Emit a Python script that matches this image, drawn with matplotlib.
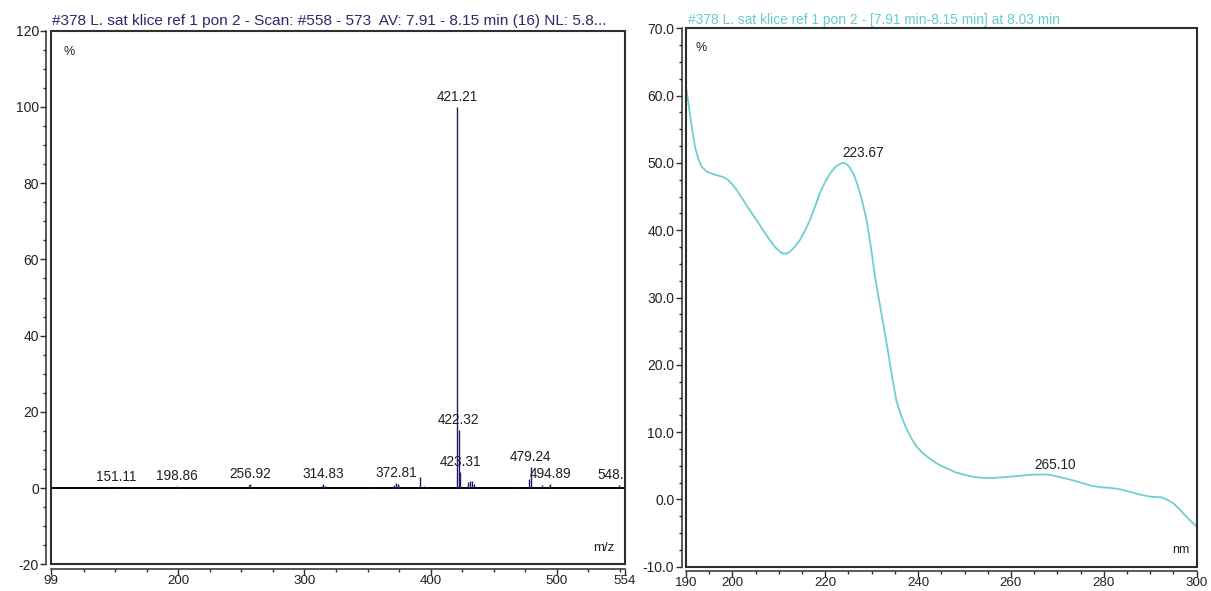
import matplotlib
matplotlib.use("Agg")
import matplotlib.pyplot as plt
from matplotlib.patches import Rectangle

plt.rcParams['font.family'] = ['Liberation Sans', 'DejaVu Sans']
plt.rcParams['axes.unicode_minus'] = False

# ---------------- data ----------------
ms_title = "#378 L. sat klice ref 1 pon 2 - Scan: #558 - 573  AV: 7.91 - 8.15 min (16) NL: 5.8..."
uv_title = "#378 L. sat klice ref 1 pon 2 - [7.91 min-8.15 min] at 8.03 min"

ms_mz = [151.11, 198.86, 255.9, 256.92, 313.8, 314.83, 316.0, 350.0,
         370.8, 372.81, 373.8, 374.8, 391.5, 394.5, 397.0,
         421.21, 422.32, 423.31, 429.5, 431.0, 432.5, 434.0,
         469.5, 478.2, 479.24, 488.0, 493.5, 494.89, 548.90, 550.5]
ms_int = [0.3, 0.5, 0.7, 1.0, 0.6, 1.0, 0.5, 0.4,
          0.8, 1.4, 1.0, 0.6, 3.0, 0.6, 0.4,
          100.0, 15.3, 4.3, 1.5, 1.8, 1.8, 1.0,
          0.4, 2.5, 5.6, 0.8, 0.6, 1.0, 0.8, 0.4]
ms_labels = ["151.11", "198.86", "256.92", "314.83", "372.81",
             "421.21", "422.32", "423.31", "479.24", "494.89", "548.90"]

ms_xlim = (99, 554)
ms_ylim = (-20, 120)
ms_xticks = [99, 200, 300, 400, 500, 554]
ms_yticks = [-20, 0, 20, 40, 60, 80, 100, 120]

uv_nm = [190, 190.5, 191, 191.5, 192, 192.7, 193.4, 194.5, 196, 198, 199, 200, 201,
         202.3, 203.7, 205.2, 206.6, 208.1, 209.3, 210.6, 211.5, 212.4, 213.4, 214.5,
         215.6, 216.7, 217.8, 218.8, 220, 221, 222.3, 223.67, 224.5, 225.2, 226.2,
         227.1, 228, 228.9, 229.8, 230.7, 231.4, 232, 233.5, 234.4, 235.3, 236.3,
         237.3, 238.5, 239.7, 241.3, 243, 244.6, 246.2, 248.2, 250.3, 252.3, 254.3,
         256.3, 258.4, 261, 263.3, 265.1, 268, 270.6, 273, 275.5, 277.5, 279.5,
         281.5, 283.6, 285.2, 286.8, 288.5, 290.1, 291.3, 292.5, 293.8, 295, 296.2,
         297.4, 298.7, 300]
uv_val = [61.2, 59.0, 56.5, 54.2, 52.2, 50.5, 49.4, 48.7, 48.3, 47.9, 47.5, 46.8, 45.9,
          44.5, 43.0, 41.5, 40.0, 38.5, 37.4, 36.6, 36.5, 36.8, 37.5, 38.5,
          39.9, 41.5, 43.5, 45.5, 47.2, 48.4, 49.5, 50.0, 49.9, 49.4, 48.2,
          46.4, 44.2, 41.5, 37.6, 33.1, 30.3, 28.0, 22.0, 18.2, 14.7, 12.5,
          10.8, 9.1, 7.8, 6.7, 5.8, 5.1, 4.6, 4.0, 3.6, 3.3, 3.2,
          3.2, 3.3, 3.45, 3.6, 3.7, 3.7, 3.3, 2.9, 2.4, 2.0, 1.8,
          1.7, 1.5, 1.2, 0.9, 0.6, 0.4, 0.35, 0.3, -0.1, -0.6, -1.4,
          -2.3, -3.2, -4.0]
uv_peaks = [223.67, 265.10]
uv_peak_labels = ["223.67", "265.10"]

uv_xlim = (190, 300)
uv_ylim = (-10, 70)
uv_xticks = [190, 200, 220, 240, 260, 280, 300]
uv_yticks = [-10, 0, 10, 20, 30, 40, 50, 60, 70]

# ---------------- styling ----------------
W, H = 1211, 591
fig = plt.figure(figsize=(W / 100, H / 100), dpi=100)
fig.patch.set_facecolor('white')


def rect(l, r, t, b):
    return [l / W, 1 - b / H, (r - l) / W, (b - t) / H]


ax1 = fig.add_axes(rect(50.7, 625, 30.7, 564.3))
ax2 = fig.add_axes(rect(686, 1196.7, 28.3, 566.7))

frame_col = '#2e2e2e'
tick_fs = 10
lab_fs = 9.8
navy = '#1c1c6a'
cyan = '#6fcfcf'


def style(ax):
    for s in ['top', 'right']:
        ax.spines[s].set_visible(False)
    for s in ['left', 'bottom']:
        ax.spines[s].set_position(('outward', 3.2))
        ax.spines[s].set_color(frame_col)
        ax.spines[s].set_linewidth(1.1)
    ax.add_patch(Rectangle((0, 0), 1, 1, transform=ax.transAxes, fill=False,
                           lw=1.5, ec=frame_col, clip_on=False, zorder=6))
    ax.tick_params(which='major', direction='out', length=4.0, width=1.0,
                   color=frame_col, labelsize=tick_fs, pad=1.2,
                   labelcolor='#222222')
    ax.tick_params(which='minor', direction='out', length=2.4, width=1.0,
                   color=frame_col)
    ax.tick_params(axis='x', which='major', pad=0.2, labelsize=9.6)


# ---- left: mass spectrum ----
style(ax1)
ax1.set_xlim(*ms_xlim)
ax1.set_ylim(*ms_ylim)
ax1.set_xticks(ms_xticks)
ax1.set_xticklabels([str(v) for v in ms_xticks])
ax1.set_xticks([v for v in range(125, 554, 25) if v % 100 != 0], minor=True)
ax1.set_yticks(ms_yticks)
ax1.set_yticks([v for v in range(-20, 121, 5) if v % 20 != 0], minor=True)

ax1.axhline(0, color='black', lw=1.4, zorder=2)
ax1.vlines(ms_mz, 0, ms_int, color=navy, lw=1.0, zorder=3)
for mz, it in zip(ms_mz, ms_int):
    lab = f"{mz:.2f}"
    if lab in ms_labels:
        t = ax1.annotate(lab, (mz, it), xytext=(0, 2), textcoords='offset points',
                         ha='center', va='bottom', fontsize=lab_fs, color='#202020',
                         zorder=1, annotation_clip=False)
        t.set_clip_on(True)
        t.set_clip_box(ax1.bbox)
ax1.text(0.022, 0.972, '%', transform=ax1.transAxes, fontsize=9, ha='left', va='top',
         color='#202020')
ax1.text(0.982, 0.02, 'm/z', transform=ax1.transAxes, fontsize=9.5, ha='right', va='bottom',
         color='#202020')

# ---- right: UV spectrum ----
style(ax2)
ax2.set_xlim(*uv_xlim)
ax2.set_ylim(*uv_ylim)
ax2.set_xticks(uv_xticks)
ax2.set_xticks([v for v in range(195, 300, 5) if v not in uv_xticks], minor=True)
ax2.set_yticks(uv_yticks)
ax2.set_yticklabels([f"{v:.1f}" for v in uv_yticks])
ax2.set_yticks([v / 2 for v in range(-20, 141, 5) if (v / 2) % 10 != 0], minor=True)

ax2.plot(uv_nm, uv_val, color=cyan, lw=1.3, zorder=3, solid_joinstyle='round')
for pk, lab in zip(uv_peaks, uv_peak_labels):
    y = max(v for n, v in zip(uv_nm, uv_val) if abs(n - pk) < 1.5)
    ax2.annotate(lab, (pk, y), xytext=(0, 2), textcoords='offset points',
                 ha='left', va='bottom', fontsize=lab_fs, color='#202020')
ax2.text(0.018, 0.975, '%', transform=ax2.transAxes, fontsize=9, ha='left', va='top',
         color='#202020')
ax2.text(0.985, 0.02, 'nm', transform=ax2.transAxes, fontsize=9, ha='right', va='bottom',
         color='#202020')

# ---- titles ----
t1 = fig.text(52 / W, 1 - 20.7 / H, ms_title, ha='left', va='center', fontsize=9.5,
              color='#2a2a6e')
t2 = fig.text(688 / W, 1 - 20 / H, uv_title, ha='left', va='center', fontsize=8.5,
              color='#66cccc')

fig.canvas.draw()
r = fig.canvas.get_renderer()
for t, target in ((t1, 555), (t2, 369)):
    w = t.get_window_extent(r).width
    t.set_fontsize(t.get_fontsize() * target / w)

fig.savefig('out.png', dpi=100)
